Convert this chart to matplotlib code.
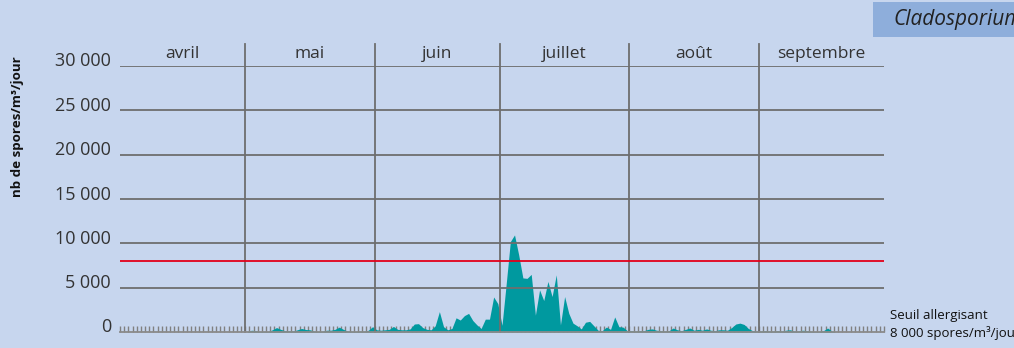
import matplotlib
matplotlib.use("Agg")
import matplotlib.pyplot as plt
import matplotlib.transforms as mtransforms
from matplotlib.patches import Rectangle
import numpy as np

plt.rcParams['font.family'] = ['Open Sans', 'DejaVu Sans']

# ---- data ----
months = ["avril", "mai", "juin", "juillet", "août", "septembre"]
month_days = [30, 31, 30, 31, 31, 30]
y_ticks = [0, 5000, 10000, 15000, 20000, 25000, 30000]
y_tick_labels = ["0", "5 000", "10 000", "15 000", "20 000", "25 000", "30 000"]
threshold = 8000

# daily counts (spores/m3/day), from 1 May
mai = [50, 200, 150, 50, 80, 60, 250, 500, 300, 150, 120, 100, 250, 400, 280, 250,
       100, 60, 80, 200, 200, 300, 550, 300, 100, 80, 60, 100, 80, 200, 600]
juin = [250, 200, 250, 300, 630, 300, 250, 250, 350, 900, 940, 500, 300, 250, 700,
        2300, 600, 250, 400, 1600, 1350, 1850, 2100, 1300, 800, 400, 1450, 1450, 3950, 3200]
juillet = [750, 5400, 10200, 10950, 8700, 6100, 6050, 6500, 1900, 4750, 3550, 5700,
           4000, 6450, 800, 4000, 2100, 1000, 700, 350, 1100, 1200, 700, 200, 150, 560,
           300, 1700, 600, 550, 150]
aout = [150, 100, 150, 150, 300, 350, 200, 150, 100, 150, 450, 250, 150, 300, 450,
        200, 300, 200, 350, 200, 150, 250, 250, 200, 500, 900, 1000, 850, 400, 150, 100]
septembre = [100, 150, 100, 80, 150, 100, 200, 250, 100, 100, 200, 150, 80, 50, 50,
             150, 450, 100, 0, 0, 0, 0, 0, 0, 0, 0, 0, 0, 0, 0]

values = np.array(mai + juin + juillet + aout + septembre, dtype=float)
start_day = month_days[0]                      # 1 May = day index 30 from 1 April
days = np.arange(len(values)) + start_day + 0.5
total_days = sum(month_days)
bounds = np.cumsum([0] + month_days)

# ---- style ----
BG = "#c7d6ee"
TEAL = "#00999f"
GRID = "#6e6e6e"
TXT = "#333333"

W, H = 1014, 348
fig = plt.figure(figsize=(W / 100, H / 100), dpi=100, facecolor=BG)
ax = fig.add_axes([120 / W, (H - 332) / H, (884 - 120) / W, (332 - 66) / H])
ax.set_facecolor(BG)
ax.set_xlim(0, total_days)
ax.set_ylim(0, 30000)

ax.fill_between(days, 0, values, color=TEAL, linewidth=0, zorder=2)

# horizontal grid lines
for v in y_ticks[1:]:
    ax.axhline(v, color=GRID, lw=1.3, zorder=3)
ax.axhline(threshold, color="#e2001a", lw=1.3, zorder=4)

# month separators (extend above the plot)
for b in bounds[1:-1]:
    ax.plot([b, b], [0, 1.083], color=GRID, lw=1.3, zorder=3,
            transform=ax.get_xaxis_transform(), clip_on=False)

# month labels
for i, m in enumerate(months):
    ax.text((bounds[i] + bounds[i + 1]) / 2, 1.045, m, ha="center", va="center",
            fontsize=12.5, color=TXT, transform=ax.get_xaxis_transform())

# y tick labels (slightly raised)
off = mtransforms.offset_copy(ax.get_yaxis_transform(), fig=fig, x=-9, y=4.5, units="dots")
for v, lab in zip(y_ticks, y_tick_labels):
    ax.text(0, v, lab, ha="right", va="center", fontsize=13, color=TXT, transform=off)

# daily ticks along the bottom
for s in ["top", "right", "left"]:
    ax.spines[s].set_visible(False)
ax.spines["bottom"].set_color("#8a8a8a")
ax.spines["bottom"].set_linewidth(1.3)
ax.spines["bottom"].set_zorder(5)
ax.set_xticks(np.arange(0, total_days + 1))
ax.set_xticklabels([])
ax.tick_params(axis="x", direction="in", length=4.3, width=1.0, color="#808080")
ax.set_yticks([])

# y axis title
fig.text(18 / W, 1 - 127 / H, "nb de spores/m³/jour", rotation=90, ha="center", va="center",
         fontsize=9.6, fontweight="bold", color="#111111")

# threshold note (cut at the right edge, as in the original)
fig.text(890 / W, 1 - 315 / H, "Seuil allergisant", ha="left", va="center", fontsize=9.5, color="#111111")
fig.text(890 / W, 1 - 333 / H, "8 000 spores/m³/jour", ha="left", va="center", fontsize=9.5, color="#111111")

# species box
fig.patches.append(Rectangle((873 / W, 1 - 37 / H), (W - 873) / W, 35 / H,
                             transform=fig.transFigure, facecolor="#8eaedb", edgecolor="none"))
fig.text(893 / W, 1 - 20 / H, "Cladosporium", ha="left", va="center", fontsize=15,
         style="italic", color="#222222")

fig.savefig("out.png", dpi=100, facecolor=BG)
